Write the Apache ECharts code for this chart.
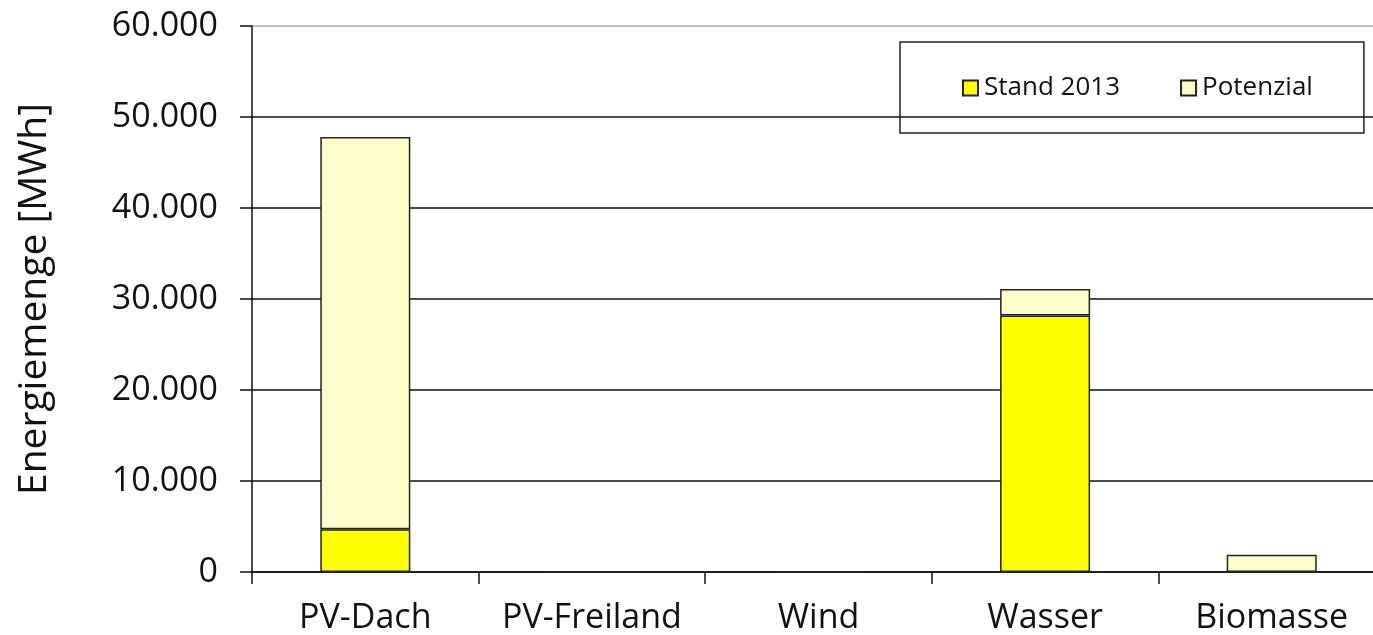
<!DOCTYPE html>
<html>
<head>
<meta charset="utf-8">
<script src="https://cdn.jsdelivr.net/npm/echarts@6/dist/echarts.min.js"></script>
<style>
  html, body { margin: 0; padding: 0; background: #fff; overflow: hidden; }
  #chart { width: 1390px; height: 635px; }
</style>
</head>
<body>
<div id="chart"></div>
<script>
const categories = ['PV-Dach', 'PV-Freiland', 'Wind', 'Wasser', 'Biomasse']
const stand2013 = [4700, 0, 0, 28200, 0]
const potenzial = [43100, 0, 0, 2900, 1900]

const textColor = '#111'
const font = '"Open Sans", sans-serif'

const chart = echarts.init(document.getElementById('chart'))

chart.setOption({
  animation: false,
  textStyle: { fontFamily: font, color: textColor },
  grid: {
    left: 252,
    top: 26,
    width: 1133,
    height: 546,
  },
  legend: {
    left: 900,
    top: 42,
    orient: 'horizontal',
    padding: [33, 51, 32, 62],
    borderColor: '#222',
    borderWidth: 1.5,
    itemGap: 60,
    itemWidth: 15,
    itemHeight: 15,
    icon: 'rect',
    textStyle: { fontSize: 26, color: textColor, fontFamily: font, padding: [0, 0, 0, 1] },
    data: ['Stand 2013', 'Potenzial'],
  },
  xAxis: {
    type: 'category',
    data: categories,
    axisLine: { lineStyle: { color: '#111', width: 1.5 } },
    axisTick: { show: true, interval: 0, length: 12, lineStyle: { color: '#111', width: 1.5 } },
    axisLabel: { interval: 0, fontSize: 34, color: textColor, margin: 29 },
  },
  yAxis: {
    type: 'value',
    min: 0,
    max: 60000,
    interval: 10000,
    name: 'Energiemenge [MWh]',
    nameLocation: 'middle',
    nameRotate: 90,
    nameGap: 198,
    nameTextStyle: { fontSize: 39, color: textColor },
    axisLine: { show: true, lineStyle: { color: '#111', width: 1.5 } },
    axisTick: { show: true, length: 12, lineStyle: { color: '#111', width: 1.5 } },
    axisLabel: {
      fontSize: 34,
      color: textColor,
      margin: 34,
      formatter: v => v === 0 ? '0' : (v / 1000) + '.000',
    },
    splitLine: {
      show: true,
      lineStyle: {
        color: ['#111', '#111', '#111', '#111', '#111', '#111', '#aaa'],
        width: 1.5,
      },
    },
  },
  series: [
    {
      name: 'Stand 2013',
      type: 'bar',
      stack: 'total',
      barWidth: 90,
      data: stand2013,
      itemStyle: { color: '#ffff00', borderColor: '#222', borderWidth: 1.5 },
    },
    {
      name: 'Potenzial',
      type: 'bar',
      stack: 'total',
      barWidth: 90,
      data: potenzial,
      itemStyle: { color: '#ffffcc', borderColor: '#222', borderWidth: 1.5 },
    },
  ],
})
</script>
</body>
</html>
